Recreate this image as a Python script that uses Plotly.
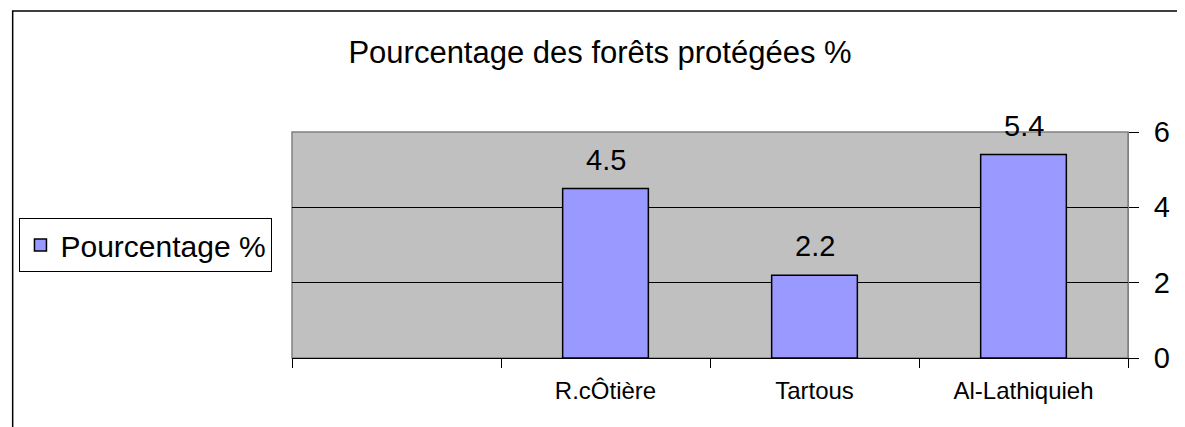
import plotly.graph_objects as go

# Data
categories = [" ", "R.cÔtière", "Tartous", "Al-Lathiquieh"]
pourcentage = [None, 4.5, 2.2, 5.4]
y_ticks = [0, 2, 4, 6]

# page body has an 8px margin, so figure coords = screen coords - 8
fig = go.Figure()
fig.add_trace(go.Bar(
    x=categories, y=pourcentage, name="Pourcentage %",
    width=0.41,
    marker=dict(color="#9999FF", line=dict(color="black", width=1.5)),
))

# value labels above bars
for c, v in zip(categories, pourcentage):
    if v is None:
        continue
    fig.add_annotation(x=c, y=v, text=str(v), showarrow=False,
                       yanchor="middle", yshift=29, font=dict(size=29, color="black"))

fig.update_layout(
    width=1185, height=427,
    margin=dict(l=282, r=65, t=124, b=77),
    paper_bgcolor="white", plot_bgcolor="#C0C0C0",
    font=dict(family="Liberation Sans, Arial", color="black"),
    title=dict(text="Pourcentage des forêts protégées %", x=0.4996, xanchor="center",
               y=1 - 44 / 427, yanchor="middle", font=dict(size=31)),
    showlegend=True,
    legend=dict(x=-0.326, xanchor="left", y=0.5, yanchor="middle",
                bordercolor="black", borderwidth=1, bgcolor="white",
                font=dict(size=30)),
    xaxis=dict(type="category", categoryorder="array", categoryarray=categories,
               tickson="boundaries", ticks="outside", ticklen=9, tickcolor="black",
               showline=True, linecolor="black", linewidth=1, showgrid=False,
               ticklabelstandoff=11, tickfont=dict(size=24)),
    yaxis=dict(side="right", range=[0, 6], tickvals=y_ticks,
               ticks="outside", ticklen=10, tickcolor="black",
               showline=True, linecolor="#808080", linewidth=1,
               gridcolor="black", gridwidth=1, zeroline=False,
               ticklabelstandoff=9, tickfont=dict(size=29)),
)

# plot area frame and outer chart frame
fig.add_shape(type="rect", xref="paper", yref="paper", x0=0, x1=1, y0=0, y1=1,
              line=dict(color="#808080", width=1.5), layer="below")
fig.add_shape(type="rect", xref="paper", yref="paper",
              x0=(2 - 282) / 838, x1=(1200 - 282) / 838,
              y0=(350 - 440) / 226, y1=(350 - 3) / 226,
              line=dict(color="black", width=1.5))

fig.write_html("out.html")
